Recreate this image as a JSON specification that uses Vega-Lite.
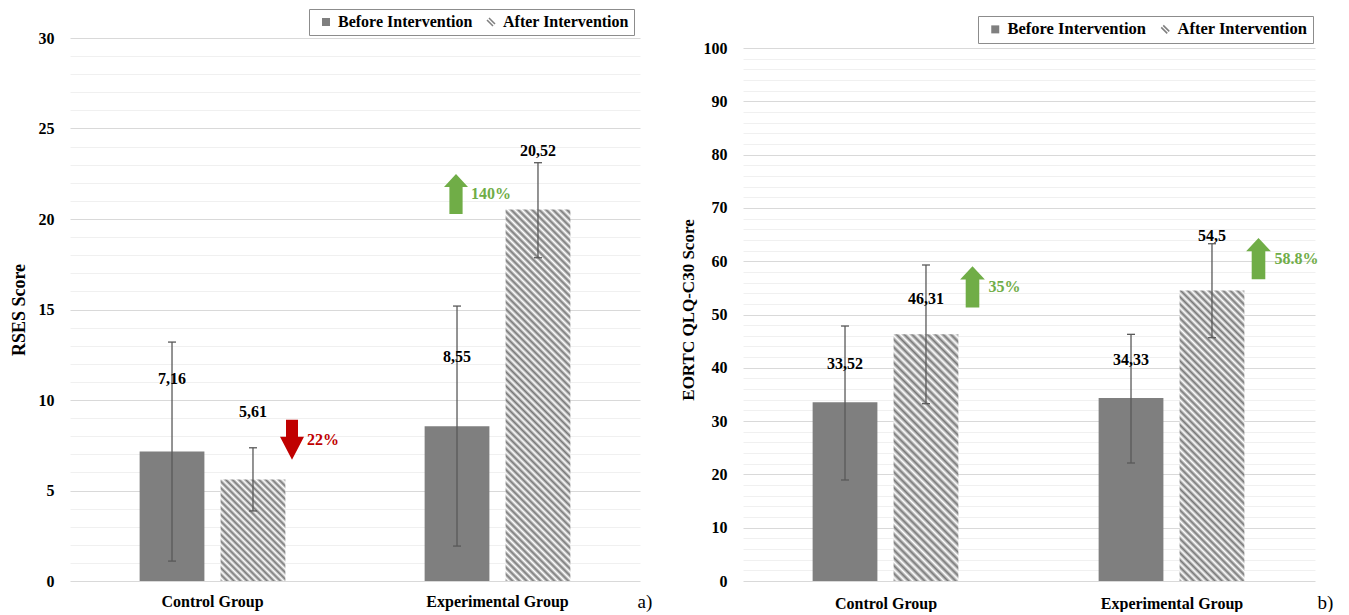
{
"$schema":"https://vega.github.io/schema/vega-lite/v6.json",
"padding":{"left":10,"top":8,"right":5,"bottom":0},
"config":{"view":{"stroke":null},"font":"Liberation Serif","axis":{"labelColor":"#000","titleColor":"#000"}},
"datasets":{
"rses":[
{"group":"Control Group","phase":"Before Intervention","value":7.16,"lo":1.1,"hi":13.2,"label":"7,16","label_y":11.16},
{"group":"Control Group","phase":"After Intervention","value":5.61,"lo":3.87,"hi":7.36,"label":"5,61","label_y":9.34},
{"group":"Experimental Group","phase":"Before Intervention","value":8.55,"lo":1.93,"hi":15.19,"label":"8,55","label_y":12.38},
{"group":"Experimental Group","phase":"After Intervention","value":20.52,"lo":17.86,"hi":23.11,"label":"20,52","label_y":23.76}
],
"rses_notes":[
{"group":"Control Group","dir":"down","y":7.8,"pct":"22%"},
{"group":"Experimental Group","dir":"up","y":21.38,"pct":"140%"}
],
"qlq":[
{"group":"Control Group","phase":"Before Intervention","value":33.52,"lo":18.95,"hi":47.84,"label":"33,52","label_y":40.7},
{"group":"Control Group","phase":"After Intervention","value":46.31,"lo":33.27,"hi":59.29,"label":"46,31","label_y":52.96},
{"group":"Experimental Group","phase":"Before Intervention","value":34.33,"lo":22.14,"hi":46.28,"label":"34,33","label_y":41.5},
{"group":"Experimental Group","phase":"After Intervention","value":54.5,"lo":45.65,"hi":63.28,"label":"54,5","label_y":64.7}
],
"qlq_notes":[
{"group":"Control Group","dir":"up","y":55.2,"pct":"35%"},
{"group":"Experimental Group","dir":"up","y":60.5,"pct":"58.8%"}
]
},
"spacing":27,
"resolve":{"scale":{"fill":"independent","color":"independent","shape":"independent"},"legend":{"fill":"independent"}},
"hconcat":[
{
"width":570,"height":543,
"data":{"name":"rses"},
"encoding":{
"x":{"field":"group","type":"nominal","sort":["Control Group","Experimental Group"],"scale":{"paddingInner":0,"paddingOuter":0},"axis":{"title":"a)","labelAngle":0,"labelFontSize":16,"labelFontWeight":"bold","labelPadding":12,"ticks":false,"domain":false,"grid":false,"titleFontSize":19,"titleFontWeight":"normal","titleX":567,"titleY":20,"titleAlign":"left","titleBaseline":"middle"}}
},
"layer":[
{"mark":{"type":"bar"},
"encoding":{
"xOffset":{"field":"phase","type":"nominal","sort":["Before Intervention","After Intervention"],"scale":{"paddingInner":0.2,"paddingOuter":0.86}},
"y":{"field":"value","type":"quantitative","scale":{"domain":[0,30],"nice":false},"axis":{"title":"RSES Score","values":[0,1,2,3,4,5,6,7,8,9,10,11,12,13,14,15,16,17,18,19,20,21,22,23,24,25,26,27,28,29,30],"tickCount":40,"labelExpr":"datum.value % 5 === 0 ? datum.label : ''","labelOverlap":false,"gridColor":{"condition":{"test":"datum.value % 5 === 0","value":"#d9d9d9"},"value":"#f0f0f0"},"ticks":false,"domain":false,"labelFontSize":16,"labelFontWeight":"bold","labelPadding":16,"titleFontSize":18,"titleFontWeight":"bold","titlePadding":10}},
"fill":{"field":"phase","type":"nominal","scale":{"domain":["Before Intervention","After Intervention"],"range":["#7f7f7f","#ffffff"]},
"legend":{"title":null,"orient":"none","legendX":239,"legendY":-29,"direction":"horizontal","strokeColor":"#8c8c8c","fillColor":"#ffffff","padding":5,"symbolOffset":4,"columnPadding":6,"labelFontSize":16,"labelFontWeight":"bold","labelColor":"#000","labelFont":"Liberation Serif","labelOffset":4,"labelLimit":400,"symbolSize":64,"symbolType":"square","symbolStrokeWidth":1.5,"encode":{"symbols":{"update":{"shape":{"signal":"datum.value === 'After Intervention' ? 'M-1,-0.5L0.5,1M-0.5,-1L1,0.5' : 'square'"},"stroke":{"signal":"datum.value === 'After Intervention' ? '#7f7f7f' : 'transparent'"}}}}},
"condition":[
{"test":"datum.phase === 'After Intervention' && datum.group === 'Control Group'","value":{"gradient":"linear","x1":0,"y1":1,"x2":0.7426,"y2":-0.1642,"stops":[
{"offset":0,"color":"#777"},{"offset":0.02,"color":"#fff"},{"offset":0.04,"color":"#777"},{"offset":0.06,"color":"#fff"},{"offset":0.08,"color":"#777"},{"offset":0.1,"color":"#fff"},{"offset":0.12,"color":"#777"},{"offset":0.14,"color":"#fff"},{"offset":0.16,"color":"#777"},{"offset":0.18,"color":"#fff"},{"offset":0.2,"color":"#777"},{"offset":0.22,"color":"#fff"},{"offset":0.24,"color":"#777"},{"offset":0.26,"color":"#fff"},{"offset":0.28,"color":"#777"},{"offset":0.3,"color":"#fff"},{"offset":0.32,"color":"#777"},{"offset":0.34,"color":"#fff"},{"offset":0.36,"color":"#777"},{"offset":0.38,"color":"#fff"},{"offset":0.4,"color":"#777"},{"offset":0.42,"color":"#fff"},{"offset":0.44,"color":"#777"},{"offset":0.46,"color":"#fff"},{"offset":0.48,"color":"#777"},{"offset":0.5,"color":"#fff"},{"offset":0.52,"color":"#777"},{"offset":0.54,"color":"#fff"},{"offset":0.56,"color":"#777"},{"offset":0.58,"color":"#fff"},{"offset":0.6,"color":"#777"},{"offset":0.62,"color":"#fff"},{"offset":0.64,"color":"#777"},{"offset":0.66,"color":"#fff"},{"offset":0.68,"color":"#777"},{"offset":0.7,"color":"#fff"},{"offset":0.72,"color":"#777"},{"offset":0.74,"color":"#fff"},{"offset":0.76,"color":"#777"},{"offset":0.78,"color":"#fff"},{"offset":0.8,"color":"#777"},{"offset":0.82,"color":"#fff"},{"offset":0.84,"color":"#777"},{"offset":0.86,"color":"#fff"},{"offset":0.88,"color":"#777"},{"offset":0.9,"color":"#fff"},{"offset":0.92,"color":"#777"},{"offset":0.94,"color":"#fff"},{"offset":0.96,"color":"#777"},{"offset":0.98,"color":"#fff"},{"offset":1,"color":"#777"}]}},
{"test":"datum.phase === 'After Intervention' && datum.group === 'Experimental Group'","value":{"gradient":"linear","x1":0,"y1":1,"x2":0.19876,"y2":-0.1397,"stops":[
{"offset":0,"color":"#777"},{"offset":0.008,"color":"#fff"},{"offset":0.016,"color":"#777"},{"offset":0.024,"color":"#fff"},{"offset":0.032,"color":"#777"},{"offset":0.04,"color":"#fff"},{"offset":0.048,"color":"#777"},{"offset":0.056,"color":"#fff"},{"offset":0.064,"color":"#777"},{"offset":0.072,"color":"#fff"},{"offset":0.08,"color":"#777"},{"offset":0.088,"color":"#fff"},{"offset":0.096,"color":"#777"},{"offset":0.104,"color":"#fff"},{"offset":0.112,"color":"#777"},{"offset":0.12,"color":"#fff"},{"offset":0.128,"color":"#777"},{"offset":0.136,"color":"#fff"},{"offset":0.144,"color":"#777"},{"offset":0.152,"color":"#fff"},{"offset":0.16,"color":"#777"},{"offset":0.168,"color":"#fff"},{"offset":0.176,"color":"#777"},{"offset":0.184,"color":"#fff"},{"offset":0.192,"color":"#777"},{"offset":0.2,"color":"#fff"},{"offset":0.208,"color":"#777"},{"offset":0.216,"color":"#fff"},{"offset":0.224,"color":"#777"},{"offset":0.232,"color":"#fff"},{"offset":0.24,"color":"#777"},{"offset":0.248,"color":"#fff"},{"offset":0.256,"color":"#777"},{"offset":0.264,"color":"#fff"},{"offset":0.272,"color":"#777"},{"offset":0.28,"color":"#fff"},{"offset":0.288,"color":"#777"},{"offset":0.296,"color":"#fff"},{"offset":0.304,"color":"#777"},{"offset":0.312,"color":"#fff"},{"offset":0.32,"color":"#777"},{"offset":0.328,"color":"#fff"},{"offset":0.336,"color":"#777"},{"offset":0.344,"color":"#fff"},{"offset":0.352,"color":"#777"},{"offset":0.36,"color":"#fff"},{"offset":0.368,"color":"#777"},{"offset":0.376,"color":"#fff"},{"offset":0.384,"color":"#777"},{"offset":0.392,"color":"#fff"},{"offset":0.4,"color":"#777"},{"offset":0.408,"color":"#fff"},{"offset":0.416,"color":"#777"},{"offset":0.424,"color":"#fff"},{"offset":0.432,"color":"#777"},{"offset":0.44,"color":"#fff"},{"offset":0.448,"color":"#777"},{"offset":0.456,"color":"#fff"},{"offset":0.464,"color":"#777"},{"offset":0.472,"color":"#fff"},{"offset":0.48,"color":"#777"},{"offset":0.488,"color":"#fff"},{"offset":0.496,"color":"#777"},{"offset":0.504,"color":"#fff"},{"offset":0.512,"color":"#777"},{"offset":0.52,"color":"#fff"},{"offset":0.528,"color":"#777"},{"offset":0.536,"color":"#fff"},{"offset":0.544,"color":"#777"},{"offset":0.552,"color":"#fff"},{"offset":0.56,"color":"#777"},{"offset":0.568,"color":"#fff"},{"offset":0.576,"color":"#777"},{"offset":0.584,"color":"#fff"},{"offset":0.592,"color":"#777"},{"offset":0.6,"color":"#fff"},{"offset":0.608,"color":"#777"},{"offset":0.616,"color":"#fff"},{"offset":0.624,"color":"#777"},{"offset":0.632,"color":"#fff"},{"offset":0.64,"color":"#777"},{"offset":0.648,"color":"#fff"},{"offset":0.656,"color":"#777"},{"offset":0.664,"color":"#fff"},{"offset":0.672,"color":"#777"},{"offset":0.68,"color":"#fff"},{"offset":0.688,"color":"#777"},{"offset":0.696,"color":"#fff"},{"offset":0.704,"color":"#777"},{"offset":0.712,"color":"#fff"},{"offset":0.72,"color":"#777"},{"offset":0.728,"color":"#fff"},{"offset":0.736,"color":"#777"},{"offset":0.744,"color":"#fff"},{"offset":0.752,"color":"#777"},{"offset":0.76,"color":"#fff"},{"offset":0.768,"color":"#777"},{"offset":0.776,"color":"#fff"},{"offset":0.784,"color":"#777"},{"offset":0.792,"color":"#fff"},{"offset":0.8,"color":"#777"},{"offset":0.808,"color":"#fff"},{"offset":0.816,"color":"#777"},{"offset":0.824,"color":"#fff"},{"offset":0.832,"color":"#777"},{"offset":0.84,"color":"#fff"},{"offset":0.848,"color":"#777"},{"offset":0.856,"color":"#fff"},{"offset":0.864,"color":"#777"},{"offset":0.872,"color":"#fff"},{"offset":0.88,"color":"#777"},{"offset":0.888,"color":"#fff"},{"offset":0.896,"color":"#777"},{"offset":0.904,"color":"#fff"},{"offset":0.912,"color":"#777"},{"offset":0.92,"color":"#fff"},{"offset":0.928,"color":"#777"},{"offset":0.936,"color":"#fff"},{"offset":0.944,"color":"#777"},{"offset":0.952,"color":"#fff"},{"offset":0.96,"color":"#777"},{"offset":0.968,"color":"#fff"},{"offset":0.976,"color":"#777"},{"offset":0.984,"color":"#fff"},{"offset":0.992,"color":"#777"},{"offset":1,"color":"#fff"}]}}
]}
}},
{"mark":{"type":"rule","color":"#595959","strokeWidth":1.3},
"encoding":{"xOffset":{"field":"phase","type":"nominal","sort":["Before Intervention","After Intervention"]},"y":{"field":"lo","type":"quantitative","title":"RSES Score"},"y2":{"field":"hi"}}},
{"mark":{"type":"tick","color":"#595959","thickness":1.3,"size":8,"opacity":1},
"encoding":{"xOffset":{"field":"phase","type":"nominal","sort":["Before Intervention","After Intervention"]},"y":{"field":"lo","type":"quantitative","title":"RSES Score"}}},
{"mark":{"type":"tick","color":"#595959","thickness":1.3,"size":8,"opacity":1},
"encoding":{"xOffset":{"field":"phase","type":"nominal","sort":["Before Intervention","After Intervention"]},"y":{"field":"hi","type":"quantitative","title":"RSES Score"}}},
{"mark":{"type":"text","fontSize":16,"fontWeight":"bold","color":"#000","baseline":"middle"},
"encoding":{"xOffset":{"field":"phase","type":"nominal","sort":["Before Intervention","After Intervention"]},"y":{"field":"label_y","type":"quantitative","title":"RSES Score"},"text":{"field":"label"}}},
{"data":{"name":"rses_notes"},"transform":[{"filter":"datum.dir === 'down'"}],
"mark":{"type":"point","filled":true,"opacity":1,"size":1600,"xOffset":79.5,"strokeWidth":0},
"encoding":{"y":{"field":"y","type":"quantitative","title":"RSES Score"},
"shape":{"field":"dir","type":"nominal","scale":{"domain":["up","down"],"range":["M0,-1L0.6,-0.35L0.33,-0.35L0.33,1L-0.33,1L-0.33,-0.35L-0.6,-0.35Z","M0,1L0.6,-0.15L0.3,-0.15L0.3,-1L-0.3,-1L-0.3,-0.15L-0.6,-0.15Z"]},"legend":null},
"color":{"field":"dir","type":"nominal","scale":{"domain":["up","down"],"range":["#70ad47","#c00000"]},"legend":null}}},
{"data":{"name":"rses_notes"},"transform":[{"filter":"datum.dir === 'down'"}],
"mark":{"type":"text","fontSize":16,"fontWeight":"bold","align":"left","baseline":"middle","dx":94.5},
"encoding":{"y":{"field":"y","type":"quantitative","title":"RSES Score"},"text":{"field":"pct"},
"color":{"field":"dir","type":"nominal","scale":{"domain":["up","down"],"range":["#70ad47","#c00000"]},"legend":null}}},
{"data":{"name":"rses_notes"},"transform":[{"filter":"datum.dir === 'up'"}],
"mark":{"type":"point","filled":true,"opacity":1,"size":1600,"xOffset":-41.5,"strokeWidth":0},
"encoding":{"y":{"field":"y","type":"quantitative","title":"RSES Score"},
"shape":{"field":"dir","type":"nominal","scale":{"domain":["up","down"],"range":["M0,-1L0.6,-0.35L0.33,-0.35L0.33,1L-0.33,1L-0.33,-0.35L-0.6,-0.35Z","M0,1L0.6,-0.15L0.3,-0.15L0.3,-1L-0.3,-1L-0.3,-0.15L-0.6,-0.15Z"]},"legend":null},
"color":{"field":"dir","type":"nominal","scale":{"domain":["up","down"],"range":["#70ad47","#c00000"]},"legend":null}}},
{"data":{"name":"rses_notes"},"transform":[{"filter":"datum.dir === 'up'"}],
"mark":{"type":"text","fontSize":16,"fontWeight":"bold","align":"left","baseline":"middle","dx":-26.5},
"encoding":{"y":{"field":"y","type":"quantitative","title":"RSES Score"},"text":{"field":"pct"},
"color":{"field":"dir","type":"nominal","scale":{"domain":["up","down"],"range":["#70ad47","#c00000"]},"legend":null}}}
]
},
{
"width":572,"height":543,
"data":{"name":"qlq"},
"encoding":{
"x":{"field":"group","type":"nominal","sort":["Control Group","Experimental Group"],"scale":{"paddingInner":0,"paddingOuter":0},"axis":{"title":"b)","labelAngle":0,"labelFontSize":16,"labelFontWeight":"bold","labelPadding":14,"ticks":false,"domain":false,"grid":false,"titleFontSize":19,"titleFontWeight":"normal","titleX":574,"titleY":21,"titleAlign":"left","titleBaseline":"middle"}}
},
"layer":[
{"mark":{"type":"bar"},
"encoding":{
"xOffset":{"field":"phase","type":"nominal","sort":["Before Intervention","After Intervention"],"scale":{"paddingInner":0.2,"paddingOuter":0.86}},
"y":{"field":"value","type":"quantitative","scale":{"domain":[0,101.88],"nice":false},"axis":{"title":"EORTC QLQ-C30 Score","values":[0,2,4,6,8,10,12,14,16,18,20,22,24,26,28,30,32,34,36,38,40,42,44,46,48,50,52,54,56,58,60,62,64,66,68,70,72,74,76,78,80,82,84,86,88,90,92,94,96,98,100],"tickCount":60,"labelExpr":"datum.value % 10 === 0 ? datum.label : ''","labelOverlap":false,"gridColor":{"condition":{"test":"datum.value % 10 === 0","value":"#d9d9d9"},"value":"#f0f0f0"},"ticks":false,"domain":false,"labelFontSize":16,"labelFontWeight":"bold","labelPadding":16,"titleFontSize":17,"titleFontWeight":"bold","titlePadding":6}},
"fill":{"field":"phase","type":"nominal","scale":{"domain":["Before Intervention","After Intervention"],"range":["#7f7f7f","#ffffff"]},
"legend":{"title":null,"orient":"none","legendX":235,"legendY":-22,"direction":"horizontal","strokeColor":"#8c8c8c","fillColor":"#ffffff","padding":5,"symbolOffset":4,"columnPadding":6,"labelFontSize":16.5,"labelFontWeight":"bold","labelColor":"#000","labelFont":"Liberation Serif","labelOffset":4,"labelLimit":400,"symbolSize":64,"symbolType":"square","symbolStrokeWidth":1.5,"encode":{"symbols":{"update":{"shape":{"signal":"datum.value === 'After Intervention' ? 'M-1,-0.5L0.5,1M-0.5,-1L1,0.5' : 'square'"},"stroke":{"signal":"datum.value === 'After Intervention' ? '#7f7f7f' : 'transparent'"}}}}},
"condition":[
{"test":"datum.phase === 'After Intervention' && datum.group === 'Control Group'","value":{"gradient":"linear","x1":0,"y1":1,"x2":0.31112,"y2":-0.1814,"stops":[
{"offset":0,"color":"#777"},{"offset":0.0125,"color":"#fff"},{"offset":0.025,"color":"#777"},{"offset":0.0375,"color":"#fff"},{"offset":0.05,"color":"#777"},{"offset":0.0625,"color":"#fff"},{"offset":0.075,"color":"#777"},{"offset":0.0875,"color":"#fff"},{"offset":0.1,"color":"#777"},{"offset":0.1125,"color":"#fff"},{"offset":0.125,"color":"#777"},{"offset":0.1375,"color":"#fff"},{"offset":0.15,"color":"#777"},{"offset":0.1625,"color":"#fff"},{"offset":0.175,"color":"#777"},{"offset":0.1875,"color":"#fff"},{"offset":0.2,"color":"#777"},{"offset":0.2125,"color":"#fff"},{"offset":0.225,"color":"#777"},{"offset":0.2375,"color":"#fff"},{"offset":0.25,"color":"#777"},{"offset":0.2625,"color":"#fff"},{"offset":0.275,"color":"#777"},{"offset":0.2875,"color":"#fff"},{"offset":0.3,"color":"#777"},{"offset":0.3125,"color":"#fff"},{"offset":0.325,"color":"#777"},{"offset":0.3375,"color":"#fff"},{"offset":0.35,"color":"#777"},{"offset":0.3625,"color":"#fff"},{"offset":0.375,"color":"#777"},{"offset":0.3875,"color":"#fff"},{"offset":0.4,"color":"#777"},{"offset":0.4125,"color":"#fff"},{"offset":0.425,"color":"#777"},{"offset":0.4375,"color":"#fff"},{"offset":0.45,"color":"#777"},{"offset":0.4625,"color":"#fff"},{"offset":0.475,"color":"#777"},{"offset":0.4875,"color":"#fff"},{"offset":0.5,"color":"#777"},{"offset":0.5125,"color":"#fff"},{"offset":0.525,"color":"#777"},{"offset":0.5375,"color":"#fff"},{"offset":0.55,"color":"#777"},{"offset":0.5625,"color":"#fff"},{"offset":0.575,"color":"#777"},{"offset":0.5875,"color":"#fff"},{"offset":0.6,"color":"#777"},{"offset":0.6125,"color":"#fff"},{"offset":0.625,"color":"#777"},{"offset":0.6375,"color":"#fff"},{"offset":0.65,"color":"#777"},{"offset":0.6625,"color":"#fff"},{"offset":0.675,"color":"#777"},{"offset":0.6875,"color":"#fff"},{"offset":0.7,"color":"#777"},{"offset":0.7125,"color":"#fff"},{"offset":0.725,"color":"#777"},{"offset":0.7375,"color":"#fff"},{"offset":0.75,"color":"#777"},{"offset":0.7625,"color":"#fff"},{"offset":0.775,"color":"#777"},{"offset":0.7875,"color":"#fff"},{"offset":0.8,"color":"#777"},{"offset":0.8125,"color":"#fff"},{"offset":0.825,"color":"#777"},{"offset":0.8375,"color":"#fff"},{"offset":0.85,"color":"#777"},{"offset":0.8625,"color":"#fff"},{"offset":0.875,"color":"#777"},{"offset":0.8875,"color":"#fff"},{"offset":0.9,"color":"#777"},{"offset":0.9125,"color":"#fff"},{"offset":0.925,"color":"#777"},{"offset":0.9375,"color":"#fff"},{"offset":0.95,"color":"#777"},{"offset":0.9625,"color":"#fff"},{"offset":0.975,"color":"#777"},{"offset":0.9875,"color":"#fff"},{"offset":1,"color":"#777"}]}},
{"test":"datum.phase === 'After Intervention' && datum.group === 'Experimental Group'","value":{"gradient":"linear","x1":0,"y1":1,"x2":0.26079,"y2":-0.1654,"stops":[
{"offset":0,"color":"#777"},{"offset":0.01,"color":"#fff"},{"offset":0.02,"color":"#777"},{"offset":0.03,"color":"#fff"},{"offset":0.04,"color":"#777"},{"offset":0.05,"color":"#fff"},{"offset":0.06,"color":"#777"},{"offset":0.07,"color":"#fff"},{"offset":0.08,"color":"#777"},{"offset":0.09,"color":"#fff"},{"offset":0.1,"color":"#777"},{"offset":0.11,"color":"#fff"},{"offset":0.12,"color":"#777"},{"offset":0.13,"color":"#fff"},{"offset":0.14,"color":"#777"},{"offset":0.15,"color":"#fff"},{"offset":0.16,"color":"#777"},{"offset":0.17,"color":"#fff"},{"offset":0.18,"color":"#777"},{"offset":0.19,"color":"#fff"},{"offset":0.2,"color":"#777"},{"offset":0.21,"color":"#fff"},{"offset":0.22,"color":"#777"},{"offset":0.23,"color":"#fff"},{"offset":0.24,"color":"#777"},{"offset":0.25,"color":"#fff"},{"offset":0.26,"color":"#777"},{"offset":0.27,"color":"#fff"},{"offset":0.28,"color":"#777"},{"offset":0.29,"color":"#fff"},{"offset":0.3,"color":"#777"},{"offset":0.31,"color":"#fff"},{"offset":0.32,"color":"#777"},{"offset":0.33,"color":"#fff"},{"offset":0.34,"color":"#777"},{"offset":0.35,"color":"#fff"},{"offset":0.36,"color":"#777"},{"offset":0.37,"color":"#fff"},{"offset":0.38,"color":"#777"},{"offset":0.39,"color":"#fff"},{"offset":0.4,"color":"#777"},{"offset":0.41,"color":"#fff"},{"offset":0.42,"color":"#777"},{"offset":0.43,"color":"#fff"},{"offset":0.44,"color":"#777"},{"offset":0.45,"color":"#fff"},{"offset":0.46,"color":"#777"},{"offset":0.47,"color":"#fff"},{"offset":0.48,"color":"#777"},{"offset":0.49,"color":"#fff"},{"offset":0.5,"color":"#777"},{"offset":0.51,"color":"#fff"},{"offset":0.52,"color":"#777"},{"offset":0.53,"color":"#fff"},{"offset":0.54,"color":"#777"},{"offset":0.55,"color":"#fff"},{"offset":0.56,"color":"#777"},{"offset":0.57,"color":"#fff"},{"offset":0.58,"color":"#777"},{"offset":0.59,"color":"#fff"},{"offset":0.6,"color":"#777"},{"offset":0.61,"color":"#fff"},{"offset":0.62,"color":"#777"},{"offset":0.63,"color":"#fff"},{"offset":0.64,"color":"#777"},{"offset":0.65,"color":"#fff"},{"offset":0.66,"color":"#777"},{"offset":0.67,"color":"#fff"},{"offset":0.68,"color":"#777"},{"offset":0.69,"color":"#fff"},{"offset":0.7,"color":"#777"},{"offset":0.71,"color":"#fff"},{"offset":0.72,"color":"#777"},{"offset":0.73,"color":"#fff"},{"offset":0.74,"color":"#777"},{"offset":0.75,"color":"#fff"},{"offset":0.76,"color":"#777"},{"offset":0.77,"color":"#fff"},{"offset":0.78,"color":"#777"},{"offset":0.79,"color":"#fff"},{"offset":0.8,"color":"#777"},{"offset":0.81,"color":"#fff"},{"offset":0.82,"color":"#777"},{"offset":0.83,"color":"#fff"},{"offset":0.84,"color":"#777"},{"offset":0.85,"color":"#fff"},{"offset":0.86,"color":"#777"},{"offset":0.87,"color":"#fff"},{"offset":0.88,"color":"#777"},{"offset":0.89,"color":"#fff"},{"offset":0.9,"color":"#777"},{"offset":0.91,"color":"#fff"},{"offset":0.92,"color":"#777"},{"offset":0.93,"color":"#fff"},{"offset":0.94,"color":"#777"},{"offset":0.95,"color":"#fff"},{"offset":0.96,"color":"#777"},{"offset":0.97,"color":"#fff"},{"offset":0.98,"color":"#777"},{"offset":0.99,"color":"#fff"},{"offset":1,"color":"#777"}]}}
]}
}},
{"mark":{"type":"rule","color":"#595959","strokeWidth":1.3},
"encoding":{"xOffset":{"field":"phase","type":"nominal","sort":["Before Intervention","After Intervention"]},"y":{"field":"lo","type":"quantitative","title":"EORTC QLQ-C30 Score"},"y2":{"field":"hi"}}},
{"mark":{"type":"tick","color":"#595959","thickness":1.3,"size":8,"opacity":1},
"encoding":{"xOffset":{"field":"phase","type":"nominal","sort":["Before Intervention","After Intervention"]},"y":{"field":"lo","type":"quantitative","title":"EORTC QLQ-C30 Score"}}},
{"mark":{"type":"tick","color":"#595959","thickness":1.3,"size":8,"opacity":1},
"encoding":{"xOffset":{"field":"phase","type":"nominal","sort":["Before Intervention","After Intervention"]},"y":{"field":"hi","type":"quantitative","title":"EORTC QLQ-C30 Score"}}},
{"mark":{"type":"text","fontSize":16,"fontWeight":"bold","color":"#000","baseline":"middle"},
"encoding":{"xOffset":{"field":"phase","type":"nominal","sort":["Before Intervention","After Intervention"]},"y":{"field":"label_y","type":"quantitative","title":"EORTC QLQ-C30 Score"},"text":{"field":"label"}}},
{"data":{"name":"qlq_notes"},
"mark":{"type":"point","filled":true,"opacity":1,"size":1700,"xOffset":86.5,"strokeWidth":0},
"encoding":{"y":{"field":"y","type":"quantitative","title":"EORTC QLQ-C30 Score"},
"shape":{"field":"dir","type":"nominal","scale":{"domain":["up","down"],"range":["M0,-1L0.6,-0.35L0.33,-0.35L0.33,1L-0.33,1L-0.33,-0.35L-0.6,-0.35Z","M0,1L0.6,-0.15L0.3,-0.15L0.3,-1L-0.3,-1L-0.3,-0.15L-0.6,-0.15Z"]},"legend":null},
"color":{"field":"dir","type":"nominal","scale":{"domain":["up","down"],"range":["#70ad47","#c00000"]},"legend":null}}},
{"data":{"name":"qlq_notes"},
"mark":{"type":"text","fontSize":16,"fontWeight":"bold","align":"left","baseline":"middle","dx":102.5},
"encoding":{"y":{"field":"y","type":"quantitative","title":"EORTC QLQ-C30 Score"},"text":{"field":"pct"},
"color":{"field":"dir","type":"nominal","scale":{"domain":["up","down"],"range":["#70ad47","#c00000"]},"legend":null}}}
]
}
]
}
